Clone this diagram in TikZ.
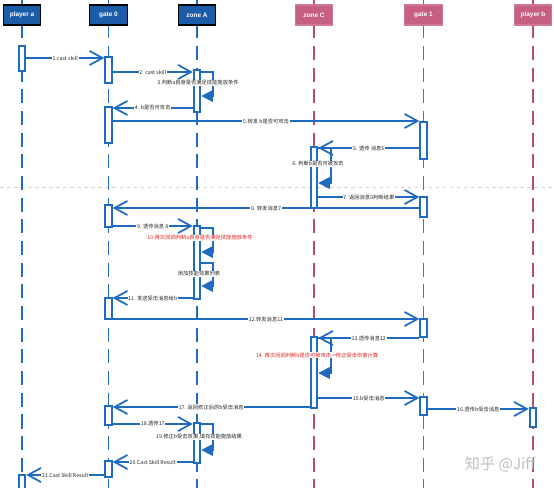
\documentclass[tikz,border=0pt]{standalone}
\usepackage{fontspec}
\setmainfont{Liberation Sans}
\newfontfamily\cjk{Noto Sans CJK SC}
\usepackage{tikz}
\usetikzlibrary{arrows.meta}
\definecolor{LineBlue}{HTML}{1F6BC0}
\definecolor{HeadBlue}{HTML}{1A5CA8}
\definecolor{LinePink}{HTML}{B84A6E}
\definecolor{HeadPink}{HTML}{C65F82}
\definecolor{NoteRed}{HTML}{E0201C}

\begin{document}
\begin{tikzpicture}[x=0.03cm, y=-0.03cm,
                headA/.style={draw=black, line width=1pt, fill=HeadBlue, text=white,
                              minimum width=1.12cm, minimum height=0.6cm,
                              font=\bfseries\fontsize{5.5}{6}\selectfont},
                headC/.style={headA, draw=HeadPink!85!white, fill=HeadPink},
                lifeA/.style={draw=LineBlue, line width=1.5pt},
                lifeC/.style={lifeA, draw=LinePink},
                broken/.style={dash pattern=on 12pt off 6.5pt},
                act/.style={draw=LineBlue, fill=white, line width=1.5pt,
                            minimum width=0.2cm, inner sep=0pt},
                msg/.style={draw=LineBlue, line width=1.5pt,
                            -{Straight Barb[length=11pt,width=12pt]}},
                selfmsg/.style={draw=LineBlue, line width=1.5pt,
                                -{Triangle[length=10pt,width=10pt]}},
                lbl/.style={fill=white, inner sep=0.6pt, text=black!85,
                            font=\cjk\fontsize{4.5}{5}\selectfont},
                hot/.style={lbl, text=NoteRed},
                sep/.style={draw=gray!35, dashed, line width=0.5pt},
                wmark/.style={text=gray!50, font=\cjk\fontsize{13}{14}\selectfont}]
                \useasboundingbox (0,0) rectangle (554,488);

                % levels
                \coordinate (top)  at (0,0);
                \coordinate (stub) at (0,38);
                \coordinate (low)  at (0,46);
                \coordinate (foot) at (0,492);
                \coordinate (sepL) at (0,187);
                \coordinate (sepR) at (554,187);
                \draw[sep] (sepL) -- (sepR);

                % participants
                \node[headA] (pa) at (22,15)    {player a};
                \node[headA] (g0) at (108.5,15) {gate 0};
                \node[headA] (zA) at (197,15)   {zone A};
                \node[headC] (zC) at (314,15)   {zone C};
                \node[headC] (g1) at (423.5,15) {gate 1};
                \node[headC] (pb) at (533,15)   {player b};

                \draw[lifeA] (pa |- top) -- (pa.north) (pa.south) -- (pa |- stub);
                \draw[lifeA] (g0 |- top) -- (g0.north) (g0.south) -- (g0 |- stub);
                \draw[lifeA] (zA |- top) -- (zA.north) (zA.south) -- (zA |- stub);
                \draw[lifeC] (zC |- top) -- (zC.north) (zC.south) -- (zC |- stub);
                \draw[lifeC] (g1 |- top) -- (g1.north) (g1.south) -- (g1 |- stub);
                \draw[lifeC] (pb |- top) -- (pb.north) (pb.south) -- (pb |- stub);
                \draw[lifeA, broken] (pa |- low) -- (pa |- foot);
                \draw[lifeA, broken] (g0 |- low) -- (g0 |- foot);
                \draw[lifeA, broken] (zA |- low) -- (zA |- foot);
                \draw[lifeC, broken] (zC |- low) -- (zC |- foot);
                \draw[lifeC, broken] (g1 |- low) -- (g1 |- foot);
                \draw[lifeC, broken] (pb |- low) -- (pb |- foot);

                % activations
                \node[act, minimum height=0.75cm] (pa1)  at (22,58.5)    {};
                \node[act, minimum height=0.78cm] (g0a1) at (108.5,70)   {};
                \node[act, minimum height=1.26cm] (zAa1) at (197,91)     {};
                \node[act, minimum height=1.08cm] (g0a2) at (108.5,125)  {};
                \node[act, minimum height=1.11cm] (g1a1) at (423.5,140.5) {};
                \node[act, minimum height=1.83cm] (zCa1) at (314,177.5)  {};
                \node[act, minimum height=0.6cm]  (g1a2) at (423.5,207)  {};
                \node[act, minimum height=0.66cm] (g0a3) at (108.5,216)  {};
                \node[act, minimum height=2.19cm] (zAa2) at (197,262.5)  {};
                \node[act, minimum height=0.63cm] (g0a4) at (108.5,308.5) {};
                \node[act, minimum height=0.54cm] (g1a3) at (423.5,328)  {};
                \node[act, minimum height=2.13cm] (zCa2) at (314,372.5)  {};
                \node[act, minimum height=0.54cm] (g1a4) at (423.5,406)  {};
                \node[act, minimum height=0.57cm] (pba1) at (533,417.5)  {};
                \node[act, minimum height=0.57cm] (g0a5) at (108.5,415.5) {};
                \node[act, minimum height=1.2cm]  (zAa3) at (197,443)    {};
                \node[act, minimum height=0.48cm] (g0a6) at (108.5,469)  {};
                \node[act, minimum height=0.6cm]  (pa2)  at (22,485)     {};

                % message levels
                \coordinate (m1)  at (0,58);
                \coordinate (m2)  at (0,72);
                \coordinate (t3)  at (0,96);
                \coordinate (m4)  at (0,108);
                \coordinate (m5)  at (0,121);
                \coordinate (m5r) at (0,148);
                \coordinate (t6)  at (0,183);
                \coordinate (m7)  at (0,197);
                \coordinate (m8)  at (0,208);
                \coordinate (m9)  at (0,226);
                \coordinate (s10) at (0,228);
                \coordinate (t10) at (0,252);
                \coordinate (s11) at (0,263);
                \coordinate (t11) at (0,286);
                \coordinate (m11) at (0,298);
                \coordinate (m12) at (0,319);
                \coordinate (m13) at (0,338);
                \coordinate (t14) at (0,373);
                \coordinate (m15) at (0,398);
                \coordinate (m17) at (0,407);
                \coordinate (m16) at (0,409);
                \coordinate (m18) at (0,424);
                \coordinate (t19) at (0,450);
                \coordinate (m20) at (0,462);
                \coordinate (m21) at (0,475);

                % self calls
                \draw[selfmsg] (zAa1.east |- m2)  -- ++(12,0) |- (zAa1.east |- t3);
                \draw[selfmsg] (zCa1.east |- m5r) -- ++(13,0) |- (zCa1.east |- t6);
                \draw[selfmsg] (zAa2.east |- s10) -- ++(12,0) |- (zAa2.east |- t10);
                \draw[selfmsg] (zAa2.east |- s11) -- ++(12,0) |- (zAa2.east |- t11);
                \draw[selfmsg] (zCa2.east |- m13) -- ++(13,0) |- (zCa2.east |- t14);
                \draw[selfmsg] (zAa3.east |- m18) -- ++(12,0) |- (zAa3.east |- t19);

                % messages
                \draw[msg] (pa1.east |- m1)   -- (g0a1.west |- m1)  node[lbl, midway] {1.cast skill};
                \draw[msg] (g0a1.east |- m2)  -- (zAa1.west |- m2)  node[lbl, midway] {2. cast skill};
                \draw[msg] (zAa1.west |- m4)  -- (g0a2.east |- m4)  node[lbl, midway] {4. b是否可攻击};
                \draw[msg] (g0a2.east |- m5)  -- (g1a1.west |- m5)  node[lbl, midway] {5.转发 b是否可攻击};
                \draw[msg] (g1a1.west |- m5r) -- (zCa1.east |- m5r) node[lbl, midway] {5. 透传 消息5};
                \draw[msg] (zCa1.east |- m7)  -- (g1a2.west |- m7)  node[lbl, midway] {7. 返回消息6判断结果};
                \draw[msg] (g1a2.west |- m8)  -- (g0a3.east |- m8)  node[lbl, midway] {8. 转发消息7};
                \draw[msg] (g0a3.east |- m9)  -- (zAa2.west |- m9)  node[lbl, midway] {9. 透传消息 8};
                \draw[msg] (zAa2.west |- m11) -- (g0a4.east |- m11) node[lbl, midway] {11. 发送受击消息给b};
                \draw[msg] (g0a4.east |- m12) -- (g1a3.west |- m12) node[lbl, midway] {12.转发消息11};
                \draw[msg] (g1a3.west |- m13) -- (zCa2.east |- m13) node[lbl, midway] {13.透传消息12};
                \draw[msg] (zCa2.east |- m15) -- (g1a4.west |- m15) node[lbl, midway] {15.b受击消息};
                \draw[msg] (g1a4.east |- m16) -- (pba1.west |- m16) node[lbl, midway] {16.透传b受击消息};
                \draw[msg] (zCa2.west |- m17) -- (g0a5.east |- m17) node[lbl, midway] {17. 返回修正后的b受击消息};
                \draw[msg] (g0a5.east |- m18) -- (zAa3.west |- m18) node[lbl, midway] {18.透传17};
                \draw[msg] (zAa3.west |- m20) -- (g0a6.east |- m20) node[lbl, midway] {20.Cast Skill Result};
                \draw[msg] (g0a6.west |- m21) -- (pa2.east |- m21)  node[lbl, midway] {21.Cast Skill Result};

                % notes
                \node[lbl] (n3)  at (198,83)  {3.判断a自身是否满足技能施放条件};
                \node[lbl] (n6)  at (318,164) {6. 判断b是否可被攻击};
                \node[hot] (n10) at (200,238) {10.再次回调判断a自身是否满足技能施放条件};
                \node[lbl] (nfx) at (199,274) {添加技能效果列表};
                \node[hot] (n14) at (317,355) {14. 再次回调判断b是否可被攻击->修正受击伤害计算};
                \node[lbl] (n19) at (199,437) {19.修正b受击效果,填充技能施放结果};

                \node[wmark] (wm) at (500,464) {知乎 @Jiff};
            \end{tikzpicture}
\end{document}
